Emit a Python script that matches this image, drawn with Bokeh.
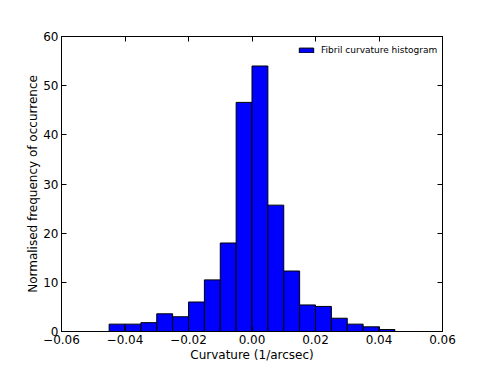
from bokeh.plotting import figure
from bokeh.models import (LinearAxis, FixedTicker, CustomJSTickFormatter, Range1d,
                          Legend, LegendItem)
from bokeh.embed import file_html
from bokeh.resources import INLINE

# Data
bin_edges = [-0.045, -0.040, -0.035, -0.030, -0.025, -0.020, -0.015, -0.010, -0.005,
             0.000, 0.005, 0.010, 0.015, 0.020, 0.025, 0.030, 0.035, 0.040, 0.045]
frequencies = [1.5, 1.5, 1.8, 3.6, 3.0, 6.0, 10.5, 18.0, 46.6,
               54.0, 25.7, 12.3, 5.4, 5.1, 2.7, 1.5, 0.95, 0.4]
x_ticks = [-0.06, -0.04, -0.02, 0.0, 0.02, 0.04, 0.06]
y_ticks = [0, 10, 20, 30, 40, 50, 60]
legend_label = "Fibril curvature histogram"
x_label = "Curvature (1/arcsec)"
y_label = "Normalised frequency of occurrence"

FONT = "DejaVu Sans"

p = figure(width=483, height=366, output_backend="svg", toolbar_location=None,
           x_range=Range1d(-0.06, 0.06), y_range=Range1d(0, 60),
           min_border_left=61, min_border_right=41, min_border_top=36, min_border_bottom=35)
p.xgrid.visible = False
p.ygrid.visible = False
p.outline_line_color = "black"
p.outline_line_width = 1
p.background_fill_color = "white"
p.border_fill_color = "white"

r = p.quad(left=bin_edges[:-1], right=bin_edges[1:], top=frequencies, bottom=0,
           fill_color="#0000ff", line_color="black", line_width=1)

fmt = CustomJSTickFormatter(code="return tick.toFixed(2).replace('-', '\u2212');")
blank = CustomJSTickFormatter(code="return '';")

def style(ax):
    ax.major_tick_in = 5
    ax.major_tick_out = 0
    ax.minor_tick_in = 0
    ax.minor_tick_out = 0
    ax.axis_line_color = "black"
    ax.major_tick_line_color = "black"
    ax.major_label_text_font = FONT
    ax.major_label_text_font_size = "12px"
    ax.major_label_text_color = "black"
    ax.axis_label_text_font = FONT
    ax.axis_label_text_font_size = "12px"
    ax.axis_label_text_font_style = "normal"
    ax.axis_label_text_color = "black"

xa = p.xaxis[0]
xa.ticker = FixedTicker(ticks=x_ticks)
xa.formatter = fmt
xa.axis_label = x_label
xa.major_label_standoff = 3
xa.axis_label_standoff = 1
style(xa)

ya = p.yaxis[0]
ya.ticker = FixedTicker(ticks=y_ticks)
ya.axis_label = y_label
ya.major_label_standoff = 3
ya.axis_label_standoff = 0
style(ya)

top_ax = LinearAxis(ticker=FixedTicker(ticks=x_ticks), formatter=blank)
style(top_ax)
p.add_layout(top_ax, "above")
right_ax = LinearAxis(ticker=FixedTicker(ticks=y_ticks), formatter=blank)
style(right_ax)
p.add_layout(right_ax, "right")

legend = Legend(items=[LegendItem(label=legend_label, renderers=[r])],
                location=(236, 276), border_line_color=None, background_fill_alpha=0,
                label_text_font=FONT, label_text_font_size="9px", label_text_color="black",
                glyph_width=18, glyph_height=6, padding=0, margin=0, spacing=0,
                label_standoff=6)
p.add_layout(legend, "center")

open("out.html", "w").write(file_html(p, INLINE))
